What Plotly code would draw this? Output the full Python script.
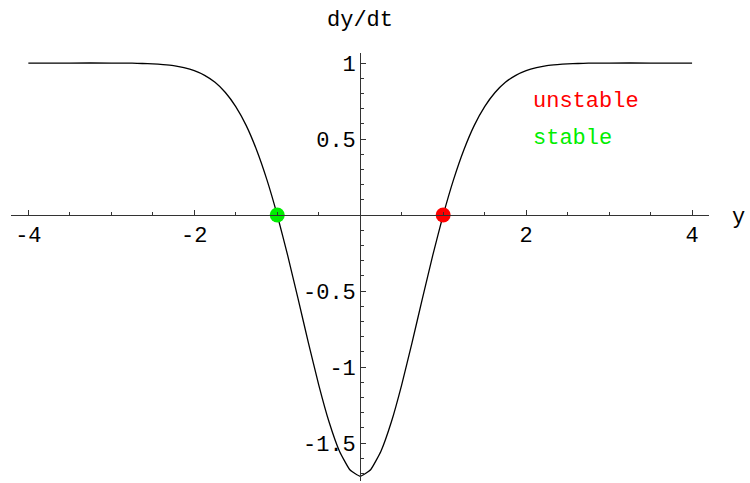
import plotly.graph_objects as go

# Sampled curve of dy/dt against y
y_vals = [-4.0, -3.5, -3.0, -2.75, -2.625, -2.5, -2.375, -2.25, -2.125, -2.0, -1.875,
          -1.75, -1.625, -1.5, -1.375, -1.25, -1.125, -1.0, -0.875, -0.75, -0.625, -0.5,
          -0.375, -0.25, -0.125, 0.0, 0.125, 0.25, 0.375, 0.5, 0.625, 0.75, 0.875, 1.0,
          1.125, 1.25, 1.375, 1.5, 1.625, 1.75, 1.875, 2.0, 2.125, 2.25, 2.375, 2.5,
          2.625, 2.75, 3.0, 3.5, 4.0]
dydt_vals = [1.0, 1.0, 1.0, 0.999, 0.997, 0.995, 0.990, 0.983, 0.970, 0.950, 0.919,
             0.873, 0.806, 0.713, 0.590, 0.430, 0.233, 0.0, -0.264, -0.549, -0.839, -1.117,
             -1.362, -1.554, -1.676, -1.718, -1.676, -1.554, -1.362, -1.117, -0.839, -0.549, -0.264, 0.0,
             0.233, 0.430, 0.590, 0.713, 0.806, 0.873, 0.919, 0.950, 0.970, 0.983, 0.990, 0.995,
             0.997, 0.999, 1.0, 1.0, 1.0]

# Equilibrium points
stable_pts = [-1.0]
unstable_pts = [1.0]

x_ticks = [-4, -2, 2, 4]
x_ticktext = ["-4", "-2", "2", "4"]
y_ticks = [-1.5, -1, -0.5, 0.5, 1]
y_ticktext = ["-1.5", "-1", "-0.5", "0.5", "1"]

FONT = "Liberation Mono"
FS = 22
W, H = 750, 483

x_range = [-4.209, 4.204]
y_range = [-1.75, 1.066]
x_dom = [11 / W, 709 / W]
y_dom = [2 / H, 430 / H]

# paper positions where each axis crosses zero
x_axis_pos = y_dom[0] + (0 - y_range[0]) / (y_range[1] - y_range[0]) * (y_dom[1] - y_dom[0])
y_axis_pos = x_dom[0] + (0 - x_range[0]) / (x_range[1] - x_range[0]) * (x_dom[1] - x_dom[0])

fig = go.Figure()
fig.add_trace(go.Scatter(x=y_vals, y=dydt_vals, mode="lines",
                         line=dict(color="black", width=1.3, shape="spline", smoothing=0.4),
                         hoverinfo="skip", cliponaxis=False))
fig.add_trace(go.Scatter(x=stable_pts, y=[0] * len(stable_pts), mode="markers",
                         marker=dict(color="#00ee00", size=15), cliponaxis=False))
fig.add_trace(go.Scatter(x=unstable_pts, y=[0] * len(unstable_pts), mode="markers",
                         marker=dict(color="#ff0000", size=15), cliponaxis=False))

axis_common = dict(showgrid=False, zeroline=False, showline=True, linecolor="#333",
                   linewidth=1, ticks="inside", tickcolor="#333", tickwidth=1,
                   tickfont=dict(family=FONT, size=FS, color="black"), automargin=False)

fig.update_layout(
    width=W, height=H, margin=dict(l=0, r=0, t=0, b=0),
    paper_bgcolor="white", plot_bgcolor="white", showlegend=False,
    xaxis=dict(range=x_range, domain=x_dom, anchor="free", position=x_axis_pos,
               tickvals=x_ticks, ticktext=x_ticktext, ticklen=5,
               minor=dict(dtick=0.5, tick0=0, ticks="inside", ticklen=3, tickcolor="#333"),
               **axis_common),
    yaxis=dict(range=y_range, domain=y_dom, anchor="free", position=y_axis_pos,
               tickvals=y_ticks, ticktext=y_ticktext, ticklen=5,
               minor=dict(dtick=0.1, tick0=0, ticks="inside", ticklen=3, tickcolor="#333"),
               **axis_common),
    font=dict(family=FONT, size=FS, color="black"),
)

fig.add_annotation(text="dy/dt", x=360 / W, y=1 - 21 / H, xref="paper", yref="paper",
                   showarrow=False, xanchor="center", yanchor="middle",
                   font=dict(family=FONT, size=FS, color="black"))
fig.add_annotation(text="y", x=738 / W, y=1 - 217 / H, xref="paper", yref="paper",
                   showarrow=False, xanchor="center", yanchor="middle",
                   font=dict(family=FONT, size=FS, color="black"))
fig.add_annotation(text="unstable", x=531 / W, y=1 - 101 / H, xref="paper", yref="paper",
                   showarrow=False, xanchor="left", yanchor="middle",
                   font=dict(family=FONT, size=FS, color="#ff0000"))
fig.add_annotation(text="stable", x=531 / W, y=1 - 138 / H, xref="paper", yref="paper",
                   showarrow=False, xanchor="left", yanchor="middle",
                   font=dict(family=FONT, size=FS, color="#00ee00"))

fig.write_html("out.html")
